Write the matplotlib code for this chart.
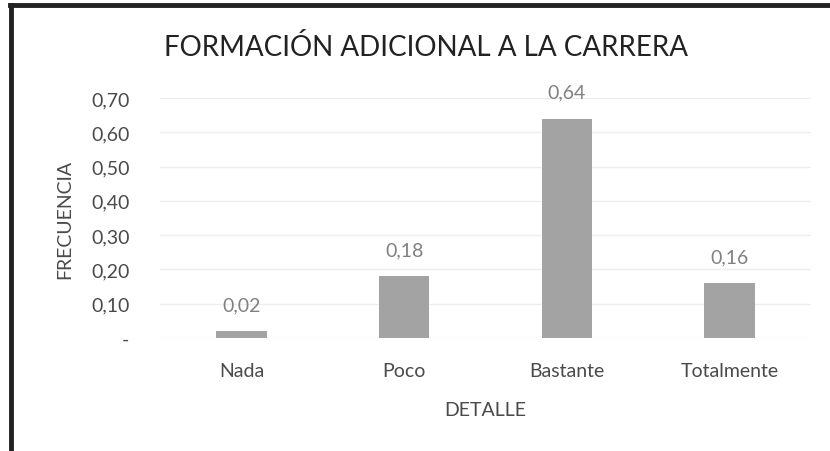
import matplotlib
matplotlib.use("Agg")
import matplotlib.pyplot as plt
from matplotlib.lines import Line2D

categories = ["Nada", "Poco", "Bastante", "Totalmente"]
values = [0.02, 0.18, 0.64, 0.16]
yticks = [0.0, 0.1, 0.2, 0.3, 0.4, 0.5, 0.6, 0.7]
yticklabels = ["-", "0,10", "0,20", "0,30", "0,40", "0,50", "0,60", "0,70"]
value_labels = ["0,02", "0,18", "0,64", "0,16"]
title = "FORMACIÓN ADICIONAL A LA CARRERA"
xlabel = "DETALLE"
ylabel = "FRECUENCIA"

plt.rcParams['font.family'] = ['Lato', 'DejaVu Sans']

fig = plt.figure(figsize=(8.3, 4.52), dpi=100)
fig.patch.set_facecolor("white")
ax = fig.add_axes([160/830, 1-339/452, 651/830, 240/452])

x = list(range(len(categories)))
ax.bar(x, values, width=0.31, color="#a3a3a3", zorder=2)
ax.set_xlim(-0.5, 3.5)
ax.set_ylim(0, 0.70)
ax.set_yticks(yticks)
ax.set_yticklabels(yticklabels)
ax.set_xticks(x)
ax.set_xticklabels(categories)
ax.tick_params(axis='both', length=0, labelsize=14, colors="#4a4a4a")
ax.tick_params(axis='y', pad=22)
ax.tick_params(axis='x', pad=17)
ax.grid(axis='y', color="#eeeeee", linewidth=1, zorder=0)
for s in ax.spines.values():
    s.set_visible(False)

for xi, v, lab in zip(x, values, value_labels):
    ax.annotate(lab, (xi, v), xytext=(0, 19), textcoords="offset points",
                ha="center", va="center", fontsize=14, color="#808080")

ax.set_xlabel(xlabel, fontsize=14, color="#4a4a4a", labelpad=16)
ax.set_ylabel(ylabel, fontsize=14, color="#4a4a4a", labelpad=13)

fig.text(426/830, 1-47/452, title, ha="center", va="center",
         fontsize=20, color="#222222", fontweight="normal")

# frame border (top and left visible)
fig.add_artist(Line2D([10/830, 1], [1-6/452, 1-6/452], transform=fig.transFigure,
                      color="#222222", linewidth=3.5))
fig.add_artist(Line2D([11/830, 11/830], [0, 1-6/452], transform=fig.transFigure,
                      color="#222222", linewidth=3.5))

fig.savefig("out.png", dpi=100)
